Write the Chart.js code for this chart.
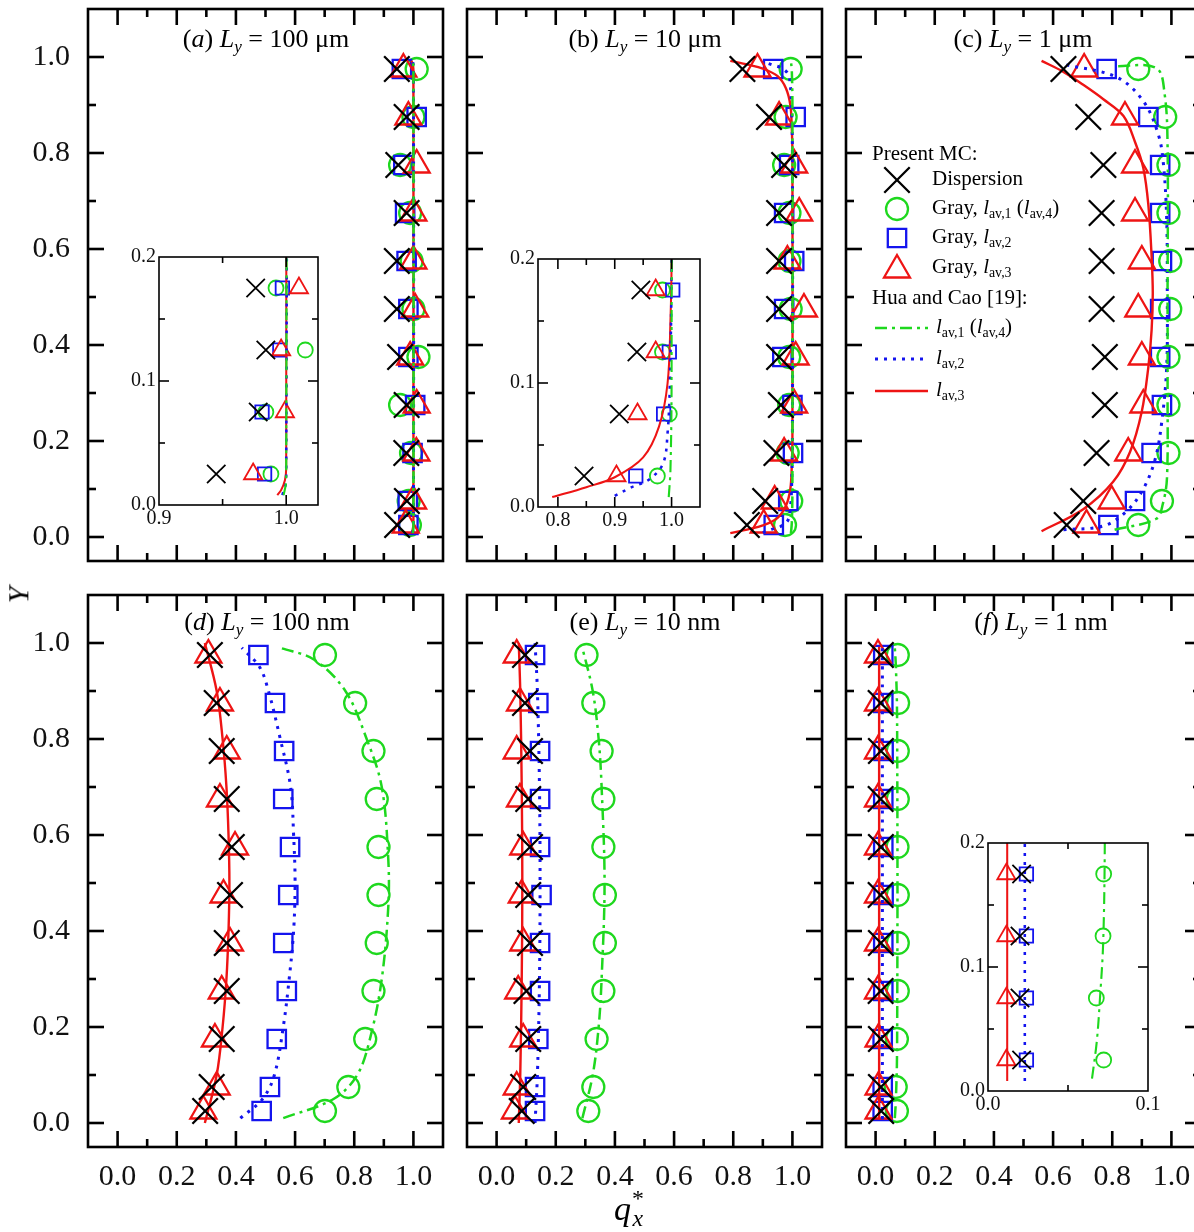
<!DOCTYPE html>
<html><head><meta charset="utf-8">
<script src="https://cdn.jsdelivr.net/npm/chart.js@4.4.1/dist/chart.umd.min.js"></script>
<style>
html,body{margin:0;padding:0;background:#fff;}
#wrap{position:relative;width:1194px;height:1232px;overflow:hidden;background:#fff;font-family:"Liberation Serif","Times New Roman",serif;color:#000;}
#wrap canvas{position:absolute;left:0;top:0;}
.t{position:absolute;white-space:nowrap;line-height:1;}
.sb{font-size:0.66em;position:relative;top:0.32em;}
</style></head><body>
<div id="wrap"></div>
<script>
// ---------------- DATA ----------------
const Y_MC = [0.025,0.075,0.175,0.275,0.375,0.475,0.575,0.675,0.775,0.875,0.975];
const Y_INSET = [0.025,0.075,0.125,0.175];
const X_TICK_LABELS = [0.0,0.2,0.4,0.6,0.8,1.0];
const Y_TICK_LABELS = [0.0,0.2,0.4,0.6,0.8,1.0];
const INSET_Y_LABELS = [0.0,0.1,0.2];
const INSET_A_X_LABELS = [0.9,1.0];
const INSET_B_X_LABELS = [0.8,0.9,1.0];
const INSET_F_X_LABELS = [0.0,0.1];

// (a) Ly = 100 um
const a_disp  = [0.945,0.978,0.976,0.977,0.955,0.944,0.944,0.977,0.949,0.977,0.944];
const a_gray1 = [0.988,0.984,0.992,0.955,1.017,1.000,0.994,0.989,0.955,1.000,1.011];
const a_gray2 = [0.983,0.981,0.997,1.006,0.983,0.983,0.977,0.972,0.966,1.011,0.961];
const a_gray3 = [0.974,0.999,1.010,1.011,0.989,1.006,1.000,1.000,1.011,0.983,0.966];
const a_hua1_x = [0.998,1.0,1.0,0.998];          const a_hua1_y = [0.008,0.02,0.98,0.992];
const a_hua2_x = [0.997,1.0,1.0,0.997];          const a_hua2_y = [0.008,0.02,0.98,0.992];
const a_hua3_x = [0.993,0.996,0.999,1.0,1.0,0.999,0.996,0.993];
const a_hua3_y = [0.008,0.012,0.02,0.03,0.97,0.98,0.988,0.992];
const ia_disp  = [0.945,0.978,0.984,0.976];
const ia_gray1 = [0.988,0.984,1.015,0.992];
const ia_gray2 = [0.983,0.981,0.995,0.997];
const ia_gray3 = [0.974,0.999,0.996,1.010];

// (b) Ly = 10 um
const b_disp  = [0.846,0.908,0.946,0.961,0.955,0.955,0.955,0.955,0.972,0.921,0.831];
const b_gray1 = [0.975,0.996,0.984,0.989,0.989,0.994,0.990,0.990,0.972,0.977,0.994];
const b_gray2 = [0.937,0.986,1.002,1.000,0.966,0.972,1.006,0.972,0.989,1.011,0.935];
const b_gray3 = [0.903,0.940,0.972,1.006,1.011,1.039,0.983,1.023,1.006,0.955,0.882];
const b_hua1_x = [0.995,0.998,1.0,1.0,0.998,0.995];
const b_hua1_y = [0.008,0.03,0.1,0.9,0.97,0.992];
const b_hua2_x = [0.90,0.93,0.96,0.985,0.993,0.997,1.0,1.0,0.997,0.993,0.985,0.96,0.93,0.90];
const b_hua2_y = [0.009,0.016,0.022,0.035,0.06,0.1,0.2,0.8,0.9,0.94,0.965,0.978,0.984,0.991];
const b_hua3_x = [0.79,0.85,0.90,0.95,0.978,0.993,0.998,1.0,1.0,0.998,0.993,0.978,0.95,0.90,0.85,0.79];
const b_hua3_y = [0.008,0.016,0.024,0.04,0.065,0.1,0.15,0.2,0.8,0.85,0.9,0.935,0.96,0.976,0.984,0.992];
const ib_disp  = [0.846,0.908,0.939,0.946];
const ib_gray1 = [0.975,0.996,0.984,0.984];
const ib_gray2 = [0.937,0.986,0.996,1.002];
const ib_gray3 = [0.903,0.940,0.972,0.972];

// (c) Ly = 1 um
const c_disp  = [0.646,0.702,0.747,0.775,0.775,0.764,0.764,0.764,0.770,0.719,0.635];
const c_gray1 = [0.888,0.968,0.990,0.990,0.990,0.996,0.996,0.990,0.990,0.979,0.888];
const c_gray2 = [0.787,0.877,0.933,0.968,0.962,0.962,0.968,0.962,0.962,0.922,0.781];
const c_gray3 = [0.713,0.798,0.854,0.905,0.900,0.888,0.900,0.877,0.877,0.843,0.705];
const c_hua1_x = [0.808,0.949,0.971,0.985,0.987,0.987,0.987,0.977,0.949,0.808];
const c_hua1_y = [0.015,0.038,0.069,0.123,0.3,0.508,0.815,0.923,0.977,0.981];
const c_hua2_x = [0.635,0.770,0.849,0.905,0.945,0.967,0.984,0.986,0.984,0.973,0.956,0.905,0.815,0.635];
const c_hua2_y = [0.015,0.023,0.054,0.1,0.162,0.238,0.354,0.508,0.662,0.777,0.838,0.908,0.958,0.985];
const c_hua3_x = [0.561,0.702,0.803,0.860,0.900,0.922,0.933,0.937,0.933,0.922,0.905,0.877,0.838,0.770,0.702,0.635,0.561];
const c_hua3_y = [0.012,0.058,0.115,0.177,0.262,0.354,0.431,0.508,0.585,0.692,0.769,0.823,0.877,0.912,0.942,0.969,0.992];

// (d) Ly = 100 nm
const d_disp  = [0.296,0.318,0.352,0.369,0.369,0.380,0.386,0.369,0.352,0.335,0.312];
const d_gray1 = [0.701,0.780,0.837,0.865,0.876,0.882,0.882,0.876,0.865,0.803,0.701];
const d_gray2 = [0.487,0.515,0.538,0.572,0.560,0.577,0.583,0.560,0.563,0.532,0.476];
const d_gray3 = [0.290,0.335,0.329,0.352,0.380,0.358,0.397,0.346,0.369,0.346,0.307];
const d_hua1_x = [0.56,0.73,0.81,0.855,0.893,0.915,0.915,0.893,0.842,0.77,0.665,0.55];
const d_hua1_y = [0.01,0.05,0.1,0.18,0.3,0.45,0.55,0.7,0.8,0.9,0.965,0.99];
const d_hua2_x = [0.415,0.49,0.53,0.56,0.58,0.595,0.60,0.595,0.585,0.55,0.51,0.48,0.42];
const d_hua2_y = [0.01,0.05,0.1,0.2,0.3,0.4,0.5,0.6,0.7,0.8,0.9,0.95,0.99];
const d_hua3_x = [0.295,0.335,0.355,0.368,0.375,0.378,0.375,0.368,0.355,0.335,0.295];
const d_hua3_y = [0.0,0.1,0.2,0.3,0.4,0.5,0.6,0.7,0.8,0.9,1.0];

// (e) Ly = 10 nm
const e_disp  = [0.085,0.090,0.107,0.101,0.113,0.107,0.113,0.107,0.113,0.096,0.096];
const e_gray1 = [0.310,0.327,0.338,0.361,0.366,0.366,0.361,0.361,0.355,0.327,0.304];
const e_gray2 = [0.130,0.130,0.141,0.147,0.147,0.152,0.147,0.147,0.147,0.141,0.130];
const e_gray3 = [0.062,0.068,0.090,0.073,0.090,0.085,0.090,0.079,0.068,0.079,0.068];
const e_hua1_x = [0.29,0.325,0.345,0.355,0.365,0.355,0.345,0.325,0.29];
const e_hua1_y = [0.01,0.1,0.2,0.3,0.5,0.7,0.8,0.9,0.99];
const e_hua2_x = [0.13,0.138,0.145,0.147,0.145,0.138,0.13];
const e_hua2_y = [0.0,0.1,0.3,0.5,0.7,0.9,1.0];
const e_hua3_x = [0.075,0.08,0.085,0.087,0.085,0.08,0.075];
const e_hua3_y = [0.0,0.1,0.3,0.5,0.7,0.9,1.0];

// (f) Ly = 1 nm
const f_disp  = [0.019,0.018,0.018,0.017,0.018,0.017,0.018,0.017,0.018,0.017,0.018];
const f_gray1 = [0.072,0.068,0.072,0.075,0.075,0.075,0.074,0.075,0.075,0.076,0.075];
const f_gray2 = [0.024,0.024,0.024,0.026,0.026,0.027,0.026,0.026,0.027,0.026,0.026];
const f_gray3 = [0.010,0.010,0.010,0.008,0.008,0.008,0.008,0.008,0.008,0.008,0.008];
const f_hua1_x = [0.065,0.068,0.070,0.072,0.073,0.074,0.073,0.072,0.070,0.068,0.065];
const f_hua1_y = [0.01,0.04,0.075,0.12,0.2,0.5,0.8,0.88,0.925,0.96,0.99];
const f_hua2_x = [0.023,0.023];  const f_hua2_y = [0.008,0.992];
const f_hua3_x = [0.012,0.012];  const f_hua3_y = [0.008,0.992];
const if_disp  = [0.021,0.020,0.020,0.021];
const if_gray1 = [0.0723,0.0677,0.0719,0.0723];
const if_gray2 = [0.024,0.024,0.024,0.024];
const if_gray3 = [0.0115,0.0115,0.0115,0.0115];

// ---------------- STYLE / LAYOUT ----------------
const CW = 1210, CH = 1232;
const FONT = '"Liberation Serif","Times New Roman",serif';
const BLACK = '#000000', GREEN = '#1ed81e', BLUE = '#1414ee', RED = '#ee1414';
const MAIN_R = {x:18, c:11, s:13, t:15, w:2.3};
const INS_R  = {x:13, c:7.5, s:9.5, t:10.5, w:1.8};

const pts = (xs, ys) => xs.map((x, i) => ({x, y: ys[i]}));

function markerSets(disp, g1, g2, g3, ys, R) {
  const m = (xs, style, r, col, order) => ({
    data: pts(xs, ys), showLine: false, pointStyle: style, pointRadius: r, pointHoverRadius: r,
    pointBorderColor: col, pointBackgroundColor: 'rgba(0,0,0,0)', pointBorderWidth: R.w,
    borderColor: col, backgroundColor: 'rgba(0,0,0,0)', order
  });
  return [
    m(disp, 'crossRot', R.x, BLACK, 0),
    m(g3, 'triangle', R.t, RED, 2),
    m(g2, 'rect', R.s, BLUE, 3),
    m(g1, 'circle', R.c, GREEN, 4)
  ];
}
function lineSets(h1x, h1y, h2x, h2y, h3x, h3y, w) {
  const l = (xs, ys, col, dash, bw) => ({
    data: pts(xs, ys), showLine: true, pointRadius: 0, borderColor: col, borderWidth: bw,
    borderDash: dash, tension: 0.35, fill: false, order: 1
  });
  return [
    l(h1x, h1y, GREEN, [12, 5, 3, 5], 2.5 * w),
    l(h2x, h2y, BLUE, [3, 6], 3 * w),
    l(h3x, h3y, RED, [], 2.4 * w)
  ];
}

const framePlugin = {
  id: 'frame',
  beforeDraw(chart, args, o) {
    if (!o.bg) return;
    const a = chart.chartArea, ctx = chart.ctx;
    ctx.save(); ctx.fillStyle = '#fff';
    ctx.fillRect(a.left, a.top, a.right - a.left, a.bottom - a.top);
    ctx.restore();
  },
  afterDraw(chart, args, o) {
    const {ctx, chartArea: a} = chart, x = chart.scales.x, y = chart.scales.y;
    ctx.save(); ctx.strokeStyle = '#000'; ctx.lineWidth = o.lw; ctx.setLineDash([]);
    const ln = (x1, y1, x2, y2) => { ctx.beginPath(); ctx.moveTo(x1, y1); ctx.lineTo(x2, y2); ctx.stroke(); };
    o.xt.forEach(([v, len]) => { const p = x.getPixelForValue(v); ln(p, a.bottom, p, a.bottom - len); ln(p, a.top, p, a.top + len); });
    o.yt.forEach(([v, len]) => { const p = y.getPixelForValue(v); ln(a.left, p, a.left + len, p); ln(a.right, p, a.right - len, p); });
    ctx.strokeRect(a.left, a.top, a.right - a.left, a.bottom - a.top);
    ctx.restore();
  }
};

function sym(ctx, style, x, y, r) {
  ctx.beginPath();
  if (style === 'crossRot') { const o = Math.SQRT1_2 * r; ctx.moveTo(x - o, y - o); ctx.lineTo(x + o, y + o); ctx.moveTo(x + o, y - o); ctx.lineTo(x - o, y + o); }
  else if (style === 'circle') { ctx.arc(x, y, r, 0, 2 * Math.PI); }
  else if (style === 'rect') { const s = Math.SQRT1_2 * r; ctx.rect(x - s, y - s, 2 * s, 2 * s); }
  else if (style === 'triangle') {
    ctx.moveTo(x, y - r);
    ctx.lineTo(x + Math.sin(2 * Math.PI / 3) * r, y - Math.cos(2 * Math.PI / 3) * r);
    ctx.lineTo(x + Math.sin(4 * Math.PI / 3) * r, y - Math.cos(4 * Math.PI / 3) * r);
    ctx.closePath();
  }
  ctx.stroke();
}
const legendPlugin = {
  id: 'legendSym',
  afterDraw(chart) {
    const ctx = chart.ctx; ctx.save(); ctx.lineWidth = MAIN_R.w;
    const sx = 897;
    [['crossRot', 180, BLACK, MAIN_R.x], ['circle', 209, GREEN, MAIN_R.c], ['rect', 238, BLUE, MAIN_R.s], ['triangle', 270, RED, MAIN_R.t]]
      .forEach(([s, yy, col, r]) => { ctx.strokeStyle = col; sym(ctx, s, sx, yy, r); });
    [[328, GREEN, [12, 5, 3, 5], 2.5], [359, BLUE, [3, 6], 3], [391, RED, [], 2.4]].forEach(([yy, col, dash, w]) => {
      ctx.strokeStyle = col; ctx.lineWidth = w; ctx.setLineDash(dash);
      ctx.beginPath(); ctx.moveTo(875, yy); ctx.lineTo(928, yy); ctx.stroke();
    });
    ctx.restore();
  }
};

function mainTicks() {
  const xt = [], yt = [];
  for (let k = 0; k <= 10; k++) { xt.push([k / 10, k % 2 === 0 ? 16 : 8]); yt.push([k / 10, k % 2 === 0 ? 16 : 8]); }
  return {xt, yt};
}

function zeroPad(s) { s.paddingTop = 0; s.paddingBottom = 0; s.paddingLeft = 0; s.paddingRight = 0; }

function makeChart(frame, xr, yr, datasets, o) {
  const cv = document.createElement('canvas');
  cv.width = CW; cv.height = CH; cv.style.width = CW + 'px'; cv.style.height = CH + 'px';
  document.getElementById('wrap').appendChild(cv);
  const plugs = [framePlugin];
  if (o.legend) plugs.push(legendPlugin);
  const yW = o.showY ? o.yW : 0, xH = o.showX ? o.xH : 0;
  return new Chart(cv.getContext('2d'), {
    type: 'scatter',
    data: {datasets},
    options: {
      responsive: false, animation: false, events: [], devicePixelRatio: 1,
      layout: {autoPadding: false, padding: {left: frame.l - yW, top: frame.t, right: CW - frame.r, bottom: CH - frame.b - xH}},
      elements: {line: {capBezierPoints: false}},
      plugins: {legend: {display: false}, tooltip: {enabled: false},
        frame: {bg: !!o.bg, lw: o.lw, xt: o.ticks.xt, yt: o.ticks.yt}},
      scales: {
        x: {type: 'linear', position: 'bottom', min: xr[0], max: xr[1],
          grid: {display: false, drawTicks: false}, border: {display: false},
          afterBuildTicks: s => { s.ticks = o.xLabels.map(v => ({value: v})); },
          afterFit: s => { s.height = xH; zeroPad(s); },
          ticks: {display: o.showX, autoSkip: false, maxRotation: 0, minRotation: 0, padding: o.xPad,
            font: {family: FONT, size: o.fs}, color: '#111', callback: v => (+v).toFixed(1)}},
        y: {type: 'linear', position: 'left', min: yr[0], max: yr[1],
          grid: {display: false, drawTicks: false}, border: {display: false},
          afterBuildTicks: s => { s.ticks = o.yLabels.map(v => ({value: v})); },
          afterFit: s => { s.width = yW; zeroPad(s); },
          ticks: {display: o.showY, autoSkip: false, padding: o.yPad,
            font: {family: FONT, size: o.fs}, color: '#111', callback: v => (+v).toFixed(1)}}
      }
    },
    plugins: plugs
  });
}

const XR = [-0.1, 1.1], YR = [-0.05, 1.1];
const MT = mainTicks();
const frames = {
  a: {l: 88, t: 9, r: 443, b: 561}, b: {l: 467, t: 9, r: 822, b: 561}, c: {l: 846, t: 9, r: 1201, b: 561},
  d: {l: 88, t: 595, r: 443, b: 1147}, e: {l: 467, t: 595, r: 822, b: 1147}, f: {l: 846, t: 595, r: 1201, b: 1147}
};
const mainOpt = (showX, showY, legend) => ({showX, showY, legend, xLabels: X_TICK_LABELS, yLabels: Y_TICK_LABELS,
  fs: 30, xPad: 12, yPad: 18, yW: 85, xH: 60, lw: 2.6, ticks: MT});

makeChart(frames.a, XR, YR, [...markerSets(a_disp, a_gray1, a_gray2, a_gray3, Y_MC, MAIN_R),
  ...lineSets(a_hua1_x, a_hua1_y, a_hua2_x, a_hua2_y, a_hua3_x, a_hua3_y, 1)], mainOpt(false, true));
makeChart(frames.b, XR, YR, [...markerSets(b_disp, b_gray1, b_gray2, b_gray3, Y_MC, MAIN_R),
  ...lineSets(b_hua1_x, b_hua1_y, b_hua2_x, b_hua2_y, b_hua3_x, b_hua3_y, 1)], mainOpt(false, false));
makeChart(frames.c, XR, YR, [...markerSets(c_disp, c_gray1, c_gray2, c_gray3, Y_MC, MAIN_R),
  ...lineSets(c_hua1_x, c_hua1_y, c_hua2_x, c_hua2_y, c_hua3_x, c_hua3_y, 1)], mainOpt(false, false, true));
makeChart(frames.d, XR, YR, [...markerSets(d_disp, d_gray1, d_gray2, d_gray3, Y_MC, MAIN_R),
  ...lineSets(d_hua1_x, d_hua1_y, d_hua2_x, d_hua2_y, d_hua3_x, d_hua3_y, 1)], mainOpt(true, true));
makeChart(frames.e, XR, YR, [...markerSets(e_disp, e_gray1, e_gray2, e_gray3, Y_MC, MAIN_R),
  ...lineSets(e_hua1_x, e_hua1_y, e_hua2_x, e_hua2_y, e_hua3_x, e_hua3_y, 1)], mainOpt(true, false));
makeChart(frames.f, XR, YR, [...markerSets(f_disp, f_gray1, f_gray2, f_gray3, Y_MC, MAIN_R),
  ...lineSets(f_hua1_x, f_hua1_y, f_hua2_x, f_hua2_y, f_hua3_x, f_hua3_y, 1)], mainOpt(true, false));

// insets
const insTicks = (xt) => ({xt, yt: [[0.05, 6], [0.1, 10], [0.15, 6]]});
const insOpt = (xLabels, xt) => ({showX: true, showY: true, xLabels, yLabels: INSET_Y_LABELS, fs: 20,
  xPad: 2, yPad: 3, yW: 45, xH: 30, lw: 1.6, bg: true, ticks: insTicks(xt)});
makeChart({l: 159, t: 257, r: 318, b: 505}, [0.9, 1.025], [0, 0.2],
  [...markerSets(ia_disp, ia_gray1, ia_gray2, ia_gray3, Y_INSET, INS_R),
   ...lineSets(a_hua1_x, a_hua1_y, a_hua2_x, a_hua2_y, a_hua3_x, a_hua3_y, 0.85)],
  insOpt(INSET_A_X_LABELS, [[0.95, 6], [1.0, 10]]));
makeChart({l: 538, t: 259, r: 700, b: 507}, [0.765, 1.05], [0, 0.2],
  [...markerSets(ib_disp, ib_gray1, ib_gray2, ib_gray3, Y_INSET, INS_R),
   ...lineSets(b_hua1_x, b_hua1_y, b_hua2_x, b_hua2_y, b_hua3_x, b_hua3_y, 0.85)],
  insOpt(INSET_B_X_LABELS, [[0.8, 10], [0.85, 6], [0.9, 10], [0.95, 6], [1.0, 10]]));
makeChart({l: 988, t: 843, r: 1148, b: 1091}, [0, 0.1], [0, 0.2],
  [...markerSets(if_disp, if_gray1, if_gray2, if_gray3, Y_INSET, INS_R),
   ...lineSets(f_hua1_x, f_hua1_y, f_hua2_x, f_hua2_y, f_hua3_x, f_hua3_y, 0.85)],
  insOpt(INSET_F_X_LABELS, [[0.05, 6]]));

// ---------------- TEXT ----------------
const wrap = document.getElementById('wrap');
function addText(html, left, top, size, extra) {
  const d = document.createElement('div');
  d.className = 't'; d.innerHTML = html;
  d.style.left = left + 'px'; d.style.top = top + 'px'; d.style.fontSize = size + 'px';
  if (extra) Object.assign(d.style, extra);
  wrap.appendChild(d); return d;
}
const titles = [
  ['(<i>a</i>) <i>L</i><span class="sb"><i>y</i></span> = 100 μm', 266, 26],
  ['(b) <i>L</i><span class="sb"><i>y</i></span> = 10 μm', 645, 26],
  ['(c) <i>L</i><span class="sb"><i>y</i></span> = 1 μm', 1023, 26],
  ['(<i>d</i>) <i>L</i><span class="sb"><i>y</i></span> = 100 nm', 267, 609],
  ['(e) <i>L</i><span class="sb"><i>y</i></span> = 10 nm', 645, 609],
  ['(<i>f</i>) <i>L</i><span class="sb"><i>y</i></span> = 1 nm', 1041, 609]
];
titles.forEach(([h, cx, top]) => addText(h, cx, top, 26, {transform: 'translateX(-50%)'}));

// axis titles
addText('<i>Y</i>', 10, 580, 30, {transform: 'rotate(-90deg)', transformOrigin: '50% 50%'});
addText('<i>q</i><span style="position:relative;display:inline-block;width:0.5em;height:1em;vertical-align:top;">' +
  '<span style="position:absolute;left:0.04em;top:-0.22em;font-size:0.7em;line-height:1;">*</span>' +
  '<span style="position:absolute;left:0.06em;top:0.62em;font-size:0.7em;line-height:1;font-style:italic;">x</span></span>',
  614, 1192, 34);

// legend text
const L = (s) => '<i>l</i><span class="sb">' + s + '</span>';
addText('Present MC:', 872, 143, 21);
addText('Dispersion', 932, 168, 21);
addText('Gray, ' + L('av,1') + ' (' + L('av,4') + ')', 932, 197, 21);
addText('Gray, ' + L('av,2'), 932, 226, 21);
addText('Gray, ' + L('av,3'), 932, 256, 21);
addText('Hua and Cao [19]:', 872, 287, 21);
addText(L('av,1') + ' (' + L('av,4') + ')', 936, 316, 21);
addText(L('av,2'), 936, 347, 21);
addText(L('av,3'), 936, 379, 21);
</script>
</body></html>
